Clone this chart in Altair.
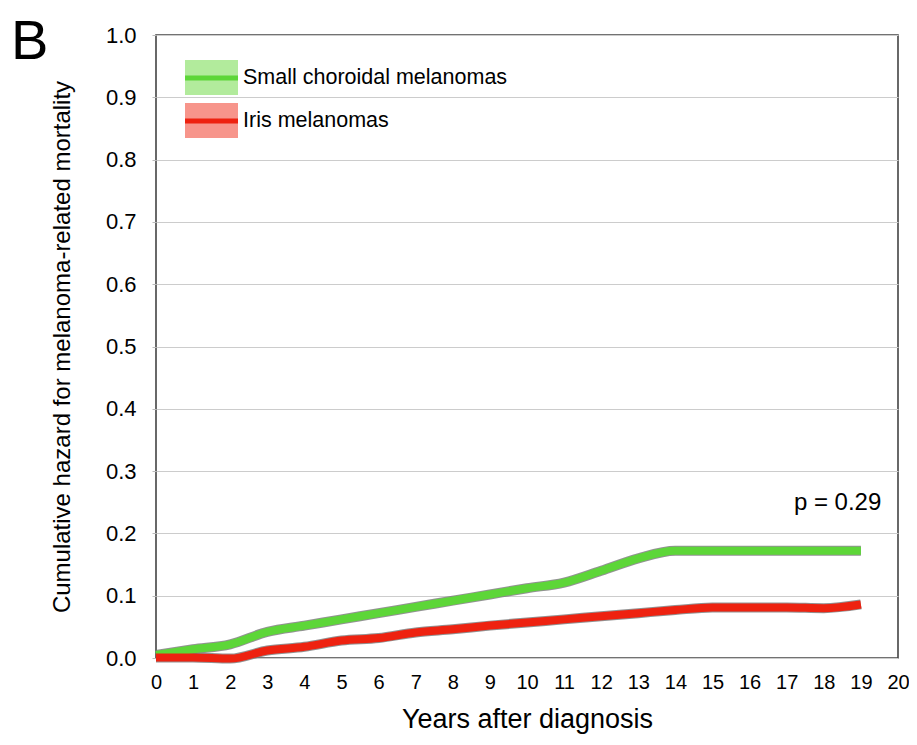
import altair as alt
import pandas as pd

years = list(range(20))
small_choroidal = [0.005, 0.014, 0.022, 0.042, 0.052, 0.062, 0.072, 0.082, 0.092, 0.102,
                   0.112, 0.121, 0.140, 0.160, 0.172, 0.172, 0.172, 0.172, 0.172, 0.172]
iris = [0.001, 0.001, -0.001, 0.012, 0.018, 0.028, 0.032, 0.041, 0.046, 0.052,
        0.057, 0.062, 0.067, 0.072, 0.077, 0.081, 0.081, 0.081, 0.080, 0.086]

series_names = ["Small choroidal melanomas", "Iris melanomas"]
line_colors = ["#5dd638", "#ee2210"]
patch_colors = ["#b2eb9c", "#f7958b"]
p_label = "p = 0.29"
x_ticks = list(range(21))
y_ticks = [round(i / 10, 1) for i in range(11)]

FONT = "Liberation Sans"

rows = []
for name, vals in zip(series_names, [small_choroidal, iris]):
    for yr, v in zip(years, vals):
        rows.append({"year": yr, "value": v, "series": name})
df = pd.DataFrame(rows)

xscale = alt.Scale(domain=[0, 20], nice=False, zero=False)
yscale = alt.Scale(domain=[0, 1], nice=False)

x_axis = alt.Axis(values=x_ticks, title="Years after diagnosis", grid=False,
                  tickSize=0, labelPadding=14, labelFont=FONT, labelFontSize=20,
                  labelColor="#000", labelOverlap=False, labelFlush=False,
                  titleFont=FONT, titleFontSize=27,
                  titleFontWeight="normal", titleColor="#000", titlePadding=14,
                  domain=False)
y_axis = alt.Axis(values=y_ticks, format=".1f",
                  title="Cumulative hazard for melanoma-related mortality",
                  grid=True, gridColor="#cccccc", gridWidth=1.2,
                  tickSize=4, tickColor="#bbbbbb", labelPadding=16,
                  labelFont=FONT, labelFontSize=22, labelColor="#000",
                  labelOverlap=False,
                  titleFont=FONT, titleFontSize=24, titleFontWeight="normal",
                  titleColor="#000", titlePadding=31, domain=False)

base = alt.Chart(df).encode(
    x=alt.X("year:Q", scale=xscale, axis=x_axis),
    y=alt.Y("value:Q", scale=yscale, axis=y_axis),
    detail="series:N",
)

shadow = base.mark_line(interpolate="monotone", strokeWidth=10, color="#777777", opacity=0.8)
lines = base.mark_line(interpolate="monotone", strokeWidth=8).encode(
    color=alt.Color("series:N", scale=alt.Scale(domain=series_names, range=line_colors), legend=None)
)

ptext = alt.Chart(pd.DataFrame({"t": [p_label], "year": [19.55], "value": [0.238]})).mark_text(
    align="right", baseline="alphabetic", font=FONT, fontSize=24, color="#000"
).encode(x=alt.X("year:Q", scale=xscale, axis=x_axis),
         y=alt.Y("value:Q", scale=yscale, axis=y_axis), text="t:N")

layers = [shadow, lines, ptext]

for i, (name, lc, pc) in enumerate(zip(series_names, line_colors, patch_colors)):
    top = 25 + i * 43
    d = pd.DataFrame({"t": [name]})
    layers.append(alt.Chart(d).mark_rect(fill=pc).encode(
        x=alt.value(29), x2=alt.value(82), y=alt.value(top), y2=alt.value(top + 35)))
    layers.append(alt.Chart(d).mark_rule(color=lc, strokeWidth=5).encode(
        x=alt.value(29), x2=alt.value(82), y=alt.value(top + 18)))
    layers.append(alt.Chart(d).mark_text(align="left", baseline="middle", font=FONT,
                                         fontSize=21.5, color="#000").encode(
        x=alt.value(87), y=alt.value(top + 18), text="t:N"))

panel = alt.Chart(pd.DataFrame({"t": ["B"]})).mark_text(
    align="left", baseline="alphabetic", font=FONT, fontSize=56, color="#000"
).encode(x=alt.value(-145), y=alt.value(24), text="t:N")
layers.append(panel)

chart = alt.layer(*layers).properties(
    width=742, height=623,
    autosize=alt.AutoSizeParams(type="none"),
    padding={"left": 148, "top": 27, "right": 11, "bottom": 79},
).configure_view(stroke="#444444", strokeWidth=1.6)

chart.save("out.html", embed_options={"renderer": "svg", "actions": False})
